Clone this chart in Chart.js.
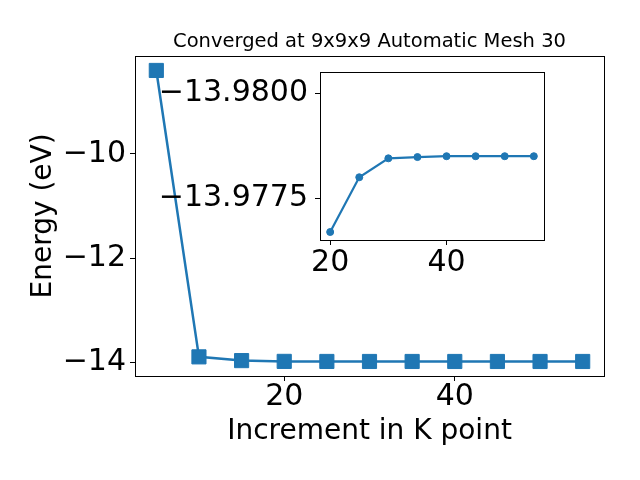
<!DOCTYPE html>
<html>
<head>
<meta charset="utf-8">
<script src="https://cdn.jsdelivr.net/npm/chart.js@4.4.0/dist/chart.umd.min.js"></script>
<style>
  body { margin: 0; background: #fff; }
  #wrap { position: relative; width: 640px; height: 480px; }
  canvas { position: absolute; left: 0; top: 0; }
</style>
</head>
<body>
<div id="wrap">
  <canvas id="mainChart" width="640" height="480"></canvas>
  <canvas id="insetChart" width="640" height="480"></canvas>
</div>
<script>
// k-point increments and total energies (eV)
const kPoints = [5, 10, 15, 20, 25, 30, 35, 40, 45, 50, 55];
const energies = [-8.398, -13.89, -13.962, -13.9767, -13.978, -13.97845, -13.97848, -13.9785, -13.9785, -13.9785, -13.9785];

// zoomed part shown in the inset (from 20 on)
const insetK = [20, 25, 30, 35, 40, 45, 50, 55];
const insetEnergies = [-13.9767, -13.978, -13.97845, -13.97848, -13.9785, -13.9785, -13.9785, -13.9785];

const xTicks = [20, 40];
const yTicks = [-14, -12, -10];
const insetXTicks = [20, 40];
const insetYTicks = [-13.98, -13.9775];

const titleText = 'Converged at 9x9x9 Automatic Mesh 30';
const blue = '#1f77b4';

Chart.defaults.font.family = "'DejaVu Sans', sans-serif";
Chart.defaults.color = '#000';

function fmt(v, digits) {
    const s = Math.abs(v).toFixed(digits);
    return v < 0 ? '\u2212' + s : s;
}

function fixedTicks(list) {
    return scale => { scale.ticks = list.map(v => ({ value: v })); };
}

// matplotlib style frame round the plot
const frame = {
    id: 'frame',
    beforeDraw(chart, args, opts) {
        if (opts.fill) {
            const a = chart.chartArea;
            chart.ctx.save();
            chart.ctx.fillStyle = opts.fill;
            chart.ctx.fillRect(a.left, a.top, a.right - a.left, a.bottom - a.top);
            chart.ctx.restore();
        }
    },
    afterDraw(chart) {
        const a = chart.chartArea;
        const ctx = chart.ctx;
        ctx.save();
        ctx.strokeStyle = '#000';
        ctx.lineWidth = 1;
        ctx.strokeRect(Math.round(a.left) + 0.5, Math.round(a.top) + 0.5,
            Math.round(a.right - a.left), Math.round(a.bottom - a.top));
        ctx.restore();
    }
};

const tickGrid = { drawOnChartArea: false, drawTicks: true, tickLength: 5, color: '#000', lineWidth: 1 };

// ---------- main chart ----------
new Chart(document.getElementById('mainChart'), {
    type: 'line',
    data: {
        datasets: [{
            data: kPoints.map((k, i) => ({ x: k, y: energies[i] })),
            borderColor: blue,
            backgroundColor: blue,
            borderWidth: 2.5,
            pointStyle: 'rect',
            pointRadius: 10,
            pointBorderWidth: 1,
            tension: 0
        }]
    },
    options: {
        responsive: false,
        animation: false,
        devicePixelRatio: 1,
        events: [],
        layout: { padding: { left: 0, top: 0, right: 36, bottom: 0 } },
        plugins: {
            legend: { display: false },
            tooltip: { enabled: false },
            title: {
                display: true,
                text: titleText,
                fullSize: false,
                color: '#000',
                font: { size: 19.5, weight: 'normal', lineHeight: 1.2 },
                padding: { top: 30, bottom: 2.5 }
            },
            frame: {}
        },
        scales: {
            x: {
                type: 'linear',
                min: 2.5,
                max: 57.5,
                afterBuildTicks: fixedTicks(xTicks),
                afterFit: s => { s.height = 104; },
                border: { display: false },
                grid: tickGrid,
                ticks: { font: { size: 30, lineHeight: 1 }, padding: 1, color: '#000', maxRotation: 0 },
                title: {
                    display: true,
                    text: 'Increment in K point',
                    color: '#000',
                    font: { size: 28, lineHeight: 1.2 },
                    padding: { top: 0, bottom: 31 }
                }
            },
            y: {
                min: -14.257,
                max: -8.119,
                afterBuildTicks: fixedTicks(yTicks),
                afterFit: s => { s.width = 135; },
                border: { display: false },
                grid: tickGrid,
                ticks: { font: { size: 30, lineHeight: 1 }, padding: 4, color: '#000', callback: v => fmt(v, 0) },
                title: {
                    display: true,
                    text: 'Energy (eV)',
                    color: '#000',
                    font: { size: 28, lineHeight: 1.2 },
                    padding: { top: 27, bottom: 0 }
                }
            }
        }
    },
    plugins: [frame]
});

// ---------- inset ----------
new Chart(document.getElementById('insetChart'), {
    type: 'line',
    data: {
        datasets: [{
            data: insetK.map((k, i) => ({ x: k, y: insetEnergies[i] })),
            borderColor: blue,
            backgroundColor: blue,
            borderWidth: 2.2,
            pointStyle: 'circle',
            pointRadius: 3.5,
            pointBorderWidth: 1,
            tension: 0
        }]
    },
    options: {
        responsive: false,
        animation: false,
        devicePixelRatio: 1,
        events: [],
        layout: { padding: { left: 0, top: 72, right: 96, bottom: 0 } },
        plugins: {
            legend: { display: false },
            tooltip: { enabled: false },
            frame: { fill: '#fff' }
        },
        scales: {
            x: {
                type: 'linear',
                min: 18.25,
                max: 56.75,
                afterBuildTicks: fixedTicks(insetXTicks),
                afterFit: s => { s.height = 240; },
                border: { display: false },
                grid: tickGrid,
                ticks: { font: { size: 30, lineHeight: 1 }, padding: 3, color: '#000', maxRotation: 0 }
            },
            y: {
                reverse: true,
                min: -13.9805,
                max: -13.97651,
                afterBuildTicks: fixedTicks(insetYTicks),
                afterFit: s => { s.width = 320; },
                border: { display: false },
                grid: tickGrid,
                ticks: { font: { size: 30, lineHeight: 1 }, padding: 7, color: '#000', callback: v => fmt(v, 4) }
            }
        }
    },
    plugins: [frame]
});
</script>
</body>
</html>
